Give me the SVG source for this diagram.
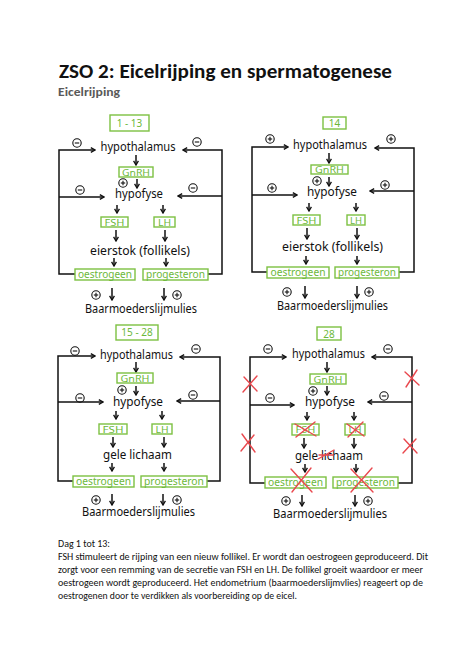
<svg xmlns="http://www.w3.org/2000/svg" xmlns:xlink="http://www.w3.org/1999/xlink" width="474" height="670" viewBox="0 0 474 670">
<style>
.hw{font-family:'Noto Sans','Liberation Sans',sans-serif;font-size:13px;fill:#111;text-anchor:middle}
.gb{fill:#fff;stroke:#7dc142;stroke-width:1.4}
.gt{font-family:'Noto Sans','Liberation Sans',sans-serif;font-size:9px;fill:#6cb83a;text-anchor:middle}
.gw{font-size:10px}
.ln{stroke:#111;stroke-width:1.5;fill:none}
.ar{marker-end:url(#ah)}
.sg{fill:none;stroke:#111;stroke-width:1.1}
.rx{stroke:#e9484e;stroke-width:1.4;fill:none;stroke-linecap:round}
.body{font-family:'Carlito','Liberation Sans',sans-serif;font-size:10.5px;fill:#111}
</style>
<defs>
<marker id="ah" viewBox="0 0 10 10" refX="9" refY="5" markerWidth="6" markerHeight="6" orient="auto" markerUnits="userSpaceOnUse">
<path d="M2,1 L9,5 L2,9" fill="none" stroke="#111" stroke-width="2.2"/>
</marker>
<g id="mn"><circle class="sg" cx="0" cy="0" r="4.2"/><line class="sg" x1="-2.2" y1="0" x2="2.2" y2="0"/></g>
<g id="pl"><circle class="sg" cx="0" cy="0" r="4.2"/><line class="sg" x1="-2.2" y1="0" x2="2.2" y2="0"/><line class="sg" x1="0" y1="-2.2" x2="0" y2="2.2"/></g>
</defs>
<rect width="474" height="670" fill="#fff"/>

<g id="title">
<text x="59" y="78" font-family="Carlito,'Liberation Sans',sans-serif" font-weight="bold" font-size="20" fill="#111" textLength="333" lengthAdjust="spacingAndGlyphs">ZSO 2: Eicelrijping en spermatogenese</text>
<text x="58" y="96" font-family="Carlito,'Liberation Sans',sans-serif" font-weight="bold" font-size="12" fill="#595959" textLength="62" lengthAdjust="spacingAndGlyphs">Eicelrijping</text>
</g>

<!-- Diagram 1 -->
<g id="diagram1">
<g id="d1-connectors">
<path class="ln ar" d="M75,274 H59 V150 H95"/>
<path class="ln ar" d="M59,197 H104"/>
<path class="ln ar" d="M208,274 H222 V150 H183"/>
<path class="ln ar" d="M222,196 H178"/>
<path class="ln ar" d="M136,155 V165"/>
<path class="ln ar" d="M137,179 V188"/>
<path class="ln ar" d="M117,205 V213"/>
<path class="ln ar" d="M163,205 V213"/>
<path class="ln ar" d="M116,230 V241"/>
<path class="ln ar" d="M165,230 V241"/>
<path class="ln ar" d="M114,258 V266"/>
<path class="ln ar" d="M166,258 V266"/>
<path class="ln ar" d="M112,288 V300"/>
<path class="ln ar" d="M164,288 V300"/>
<use href="#mn" x="77" y="143"/><use href="#mn" x="197" y="142"/>
<use href="#mn" x="80" y="190"/><use href="#mn" x="193" y="188"/>
<use href="#pl" x="123" y="183"/><use href="#pl" x="96" y="295"/><use href="#pl" x="177" y="295"/>
</g>
<g id="d1-label"><rect class="gb" x="110" y="115" width="39" height="16"/><text class="gt gw" x="129.5" y="126.5">1 - 13</text></g>
<g id="d1-hypothalamus"><text class="hw" x="138" y="151" textLength="75" lengthAdjust="spacingAndGlyphs">hypothalamus</text></g>
<g id="d1-gnrh"><rect class="gb" x="119" y="167" width="34" height="10"/><text class="gt" x="136" y="175.5" textLength="28" lengthAdjust="spacingAndGlyphs">GnRH</text></g>
<g id="d1-hypofyse"><text class="hw" x="139" y="198" textLength="48" lengthAdjust="spacingAndGlyphs">hypofyse</text></g>
<g id="d1-fsh"><rect class="gb" x="101" y="217" width="27" height="10"/><text class="gt" x="114.5" y="225.5" textLength="20" lengthAdjust="spacingAndGlyphs">FSH</text></g>
<g id="d1-lh"><rect class="gb" x="154" y="217" width="21" height="10"/><text class="gt" x="164.5" y="225.5" textLength="13" lengthAdjust="spacingAndGlyphs">LH</text></g>
<g id="d1-eierstok"><text class="hw" x="140" y="255" textLength="100" lengthAdjust="spacingAndGlyphs">eierstok (follikels)</text></g>
<g id="d1-oestrogeen"><rect class="gb" x="75" y="269" width="60" height="11"/><text class="gt gw" x="105" y="278" textLength="54" lengthAdjust="spacingAndGlyphs">oestrogeen</text></g>
<g id="d1-progesteron"><rect class="gb" x="143" y="269" width="65" height="11"/><text class="gt gw" x="175.5" y="278" textLength="59" lengthAdjust="spacingAndGlyphs">progesteron</text></g>
<g id="d1-baarmoeder"><text class="hw" x="141" y="313" textLength="112" lengthAdjust="spacingAndGlyphs">Baarmoederslijmulies</text></g>
</g>

<!-- Diagram 2 -->
<g id="diagram2" transform="translate(193,-2)">
<g id="d2-connectors">
<path class="ln ar" d="M75,274 H59 V149 H95"/>
<path class="ln ar" d="M59,197 H104"/>
<path class="ln ar" d="M206,274 H221 V150 H182"/>
<path class="ln ar" d="M221,193 H177"/>
<path class="ln ar" d="M136,155 V165"/>
<path class="ln ar" d="M136,179 V188"/>
<path class="ln ar" d="M116,205 V213"/>
<path class="ln ar" d="M163,205 V213"/>
<path class="ln ar" d="M114,230 V241"/>
<path class="ln ar" d="M164,230 V241"/>
<path class="ln ar" d="M113,258 V266"/>
<path class="ln ar" d="M164,258 V266"/>
<path class="ln ar" d="M112,288 V300"/>
<path class="ln ar" d="M164,288 V300"/>
<use href="#pl" x="77" y="141"/><use href="#pl" x="198" y="141"/>
<use href="#pl" x="79" y="190"/><use href="#pl" x="192" y="187"/>
<use href="#pl" x="124" y="183"/><use href="#pl" x="94" y="294"/><use href="#pl" x="176" y="294"/>
</g>
<g id="d2-label"><rect class="gb" x="130" y="119" width="23" height="12"/><text class="gt gw" x="141.5" y="128.5">14</text></g>
<g id="d2-hypothalamus"><text class="hw" x="137" y="151" textLength="74" lengthAdjust="spacingAndGlyphs">hypothalamus</text></g>
<g id="d2-gnrh"><rect class="gb" x="118" y="167" width="37" height="9"/><text class="gt" x="136.5" y="175" textLength="29" lengthAdjust="spacingAndGlyphs">GnRH</text></g>
<g id="d2-hypofyse"><text class="hw" x="139" y="198" textLength="50" lengthAdjust="spacingAndGlyphs">hypofyse</text></g>
<g id="d2-fsh"><rect class="gb" x="100" y="217" width="27" height="10"/><text class="gt" x="113.5" y="225.5" textLength="20" lengthAdjust="spacingAndGlyphs">FSH</text></g>
<g id="d2-lh"><rect class="gb" x="154" y="217" width="18" height="10"/><text class="gt" x="163" y="225.5" textLength="12" lengthAdjust="spacingAndGlyphs">LH</text></g>
<g id="d2-eierstok"><text class="hw" x="139.5" y="253" textLength="101" lengthAdjust="spacingAndGlyphs">eierstok (follikels)</text></g>
<g id="d2-oestrogeen"><rect class="gb" x="74" y="269" width="62" height="11"/><text class="gt gw" x="105" y="278" textLength="55" lengthAdjust="spacingAndGlyphs">oestrogeen</text></g>
<g id="d2-progesteron"><rect class="gb" x="142" y="269" width="64" height="11"/><text class="gt gw" x="174" y="278" textLength="58" lengthAdjust="spacingAndGlyphs">progesteron</text></g>
<g id="d2-baarmoeder"><text class="hw" x="139.5" y="312" textLength="111" lengthAdjust="spacingAndGlyphs">Baarmoederslijmulies</text></g>
</g>

<!-- Diagram 3 -->
<g id="diagram3" transform="translate(-1,207)">
<g id="d3-connectors">
<path class="ln ar" d="M74,274 H59 V149 H96"/>
<path class="ln ar" d="M59,195 H104"/>
<path class="ln ar" d="M208,274 H221 V150 H181"/>
<path class="ln ar" d="M221,194 H178"/>
<path class="ln ar" d="M137,155 V165"/>
<path class="ln ar" d="M137,179 V188"/>
<path class="ln ar" d="M117,204 V212"/>
<path class="ln ar" d="M163,204 V212"/>
<path class="ln ar" d="M114,230 V240"/>
<path class="ln ar" d="M165,230 V240"/>
<path class="ln ar" d="M113,256 V264"/>
<path class="ln ar" d="M165,256 V264"/>
<path class="ln ar" d="M113,287 V298"/>
<path class="ln ar" d="M164,287 V298"/>
<use href="#mn" x="76" y="144"/><use href="#mn" x="197" y="142"/>
<use href="#mn" x="81" y="191"/><use href="#mn" x="194" y="188"/>
<use href="#pl" x="123" y="183"/><use href="#pl" x="97" y="293"/><use href="#pl" x="178" y="293"/>
</g>
<g id="d3-label"><rect class="gb" x="117" y="118" width="42" height="15"/><text class="gt gw" x="138" y="129">15 - 28</text></g>
<g id="d3-hypothalamus"><text class="hw" x="137.5" y="152" textLength="73" lengthAdjust="spacingAndGlyphs">hypothalamus</text></g>
<g id="d3-gnrh"><rect class="gb" x="118" y="166" width="36" height="10"/><text class="gt" x="136" y="174.5" textLength="29" lengthAdjust="spacingAndGlyphs">GnRH</text></g>
<g id="d3-hypofyse"><text class="hw" x="139" y="199" textLength="50" lengthAdjust="spacingAndGlyphs">hypofyse</text></g>
<g id="d3-fsh"><rect class="gb" x="100" y="217" width="28" height="10"/><text class="gt" x="114" y="225.5" textLength="21" lengthAdjust="spacingAndGlyphs">FSH</text></g>
<g id="d3-lh"><rect class="gb" x="153" y="217" width="20" height="10"/><text class="gt" x="163" y="225.5" textLength="13" lengthAdjust="spacingAndGlyphs">LH</text></g>
<g id="d3-gele-lichaam"><text class="hw" x="138.5" y="252" textLength="69" lengthAdjust="spacingAndGlyphs">gele lichaam</text></g>
<g id="d3-oestrogeen"><rect class="gb" x="74" y="269" width="61" height="11"/><text class="gt gw" x="104.5" y="278" textLength="55" lengthAdjust="spacingAndGlyphs">oestrogeen</text></g>
<g id="d3-progesteron"><rect class="gb" x="142" y="269" width="66" height="11"/><text class="gt gw" x="175" y="278" textLength="60" lengthAdjust="spacingAndGlyphs">progesteron</text></g>
<g id="d3-baarmoeder"><text class="hw" x="139.5" y="309" textLength="113" lengthAdjust="spacingAndGlyphs">Baarmoederslijmulies</text></g>
</g>

<!-- Diagram 4 -->
<g id="diagram4" transform="translate(191,207)">
<g id="d4-connectors">
<path class="ln ar" d="M74,276 H59 V150 H95"/>
<path class="ln ar" d="M59,198 H103"/>
<path class="ln ar" d="M207,276 H221 V150 H181"/>
<path class="ln ar" d="M221,195 H177"/>
<path class="ln ar" d="M136,155 V165"/>
<path class="ln ar" d="M136,179 V188"/>
<path class="ln ar" d="M116,205 V213"/>
<path class="ln ar" d="M163,205 V213"/>
<path class="ln ar" d="M113,231 V241"/>
<path class="ln ar" d="M163,231 V241"/>
<path class="ln ar" d="M114,257 V265"/>
<path class="ln ar" d="M165,257 V265"/>
<path class="ln ar" d="M111,288 V299"/>
<path class="ln ar" d="M164,288 V299"/>
<use href="#mn" x="77" y="142"/><use href="#mn" x="197" y="142"/>
<use href="#mn" x="79" y="191"/><use href="#mn" x="193" y="189"/>
<use href="#pl" x="122" y="184"/><use href="#pl" x="95" y="294"/><use href="#pl" x="177" y="294"/>
</g>
<g id="d4-label"><rect class="gb" x="126" y="120" width="24" height="13"/><text class="gt gw" x="138" y="130.5">28</text></g>
<g id="d4-hypothalamus"><text class="hw" x="137.5" y="151" textLength="73" lengthAdjust="spacingAndGlyphs">hypothalamus</text></g>
<g id="d4-gnrh"><rect class="gb" x="119" y="167" width="36" height="10"/><text class="gt" x="137" y="175.5" textLength="29" lengthAdjust="spacingAndGlyphs">GnRH</text></g>
<g id="d4-hypofyse"><text class="hw" x="139" y="199" textLength="50" lengthAdjust="spacingAndGlyphs">hypofyse</text></g>
<g id="d4-fsh"><rect class="gb" x="101" y="217" width="27" height="11"/><text class="gt" x="114.5" y="226" textLength="20" lengthAdjust="spacingAndGlyphs">FSH</text></g>
<g id="d4-lh"><rect class="gb" x="154" y="217" width="20" height="11"/><text class="gt" x="164" y="226" textLength="13" lengthAdjust="spacingAndGlyphs">LH</text></g>
<g id="d4-gele-lichaam"><text class="hw" x="138" y="253" textLength="68" lengthAdjust="spacingAndGlyphs">gele lichaam</text></g>
<g id="d4-oestrogeen"><rect class="gb" x="74" y="270" width="61" height="11"/><text class="gt gw" x="104.5" y="279" textLength="55" lengthAdjust="spacingAndGlyphs">oestrogeen</text></g>
<g id="d4-progesteron"><rect class="gb" x="142" y="270" width="65" height="11"/><text class="gt gw" x="174.5" y="279" textLength="59" lengthAdjust="spacingAndGlyphs">progesteron</text></g>
<g id="d4-baarmoeder"><text class="hw" x="139" y="311" textLength="114" lengthAdjust="spacingAndGlyphs">Baarmoederslijmulies</text></g>
<g id="d4-crosses">
<path class="rx" d="M53,170 L66,184 M66,169 L52,185"/>
<path class="rx" d="M214,165 L228,178 M226,163 L215,180"/>
<path class="rx" d="M51,227 L64,245 M63,228 L50,244"/>
<path class="rx" d="M213,232 L226,246 M225,232 L212,246"/>
<path class="rx" d="M104,217 L125,229 M124,215 L105,230"/>
<path class="rx" d="M156,217 L173,229 M172,215 L157,230"/>
<path class="rx" d="M127,252 L143,243 M128,248 L142,248"/>
<path class="rx" d="M100,262 L121,285 M120,261 L101,285"/>
<path class="rx" d="M160,262 L182,285 M181,261 L160,285"/>
</g>
</g>

<g id="body-text">
<text class="body" x="58" y="547" textLength="52" lengthAdjust="spacingAndGlyphs">Dag 1 tot 13:</text>
<text class="body" x="58" y="559.5" textLength="370" lengthAdjust="spacingAndGlyphs">FSH stimuleert de rijping van een nieuw follikel. Er wordt dan oestrogeen geproduceerd. Dit</text>
<text class="body" x="58" y="572.5" textLength="365" lengthAdjust="spacingAndGlyphs">zorgt voor een remming van de secretie van FSH en LH. De follikel groeit waardoor er meer</text>
<text class="body" x="58" y="585.5" textLength="365" lengthAdjust="spacingAndGlyphs">oestrogeen wordt geproduceerd. Het endometrium (baarmoederslijmvlies) reageert op de</text>
<text class="body" x="58" y="598.5" textLength="239" lengthAdjust="spacingAndGlyphs">oestrogenen door te verdikken als voorbereiding op de eicel.</text>
</g>
</svg>
